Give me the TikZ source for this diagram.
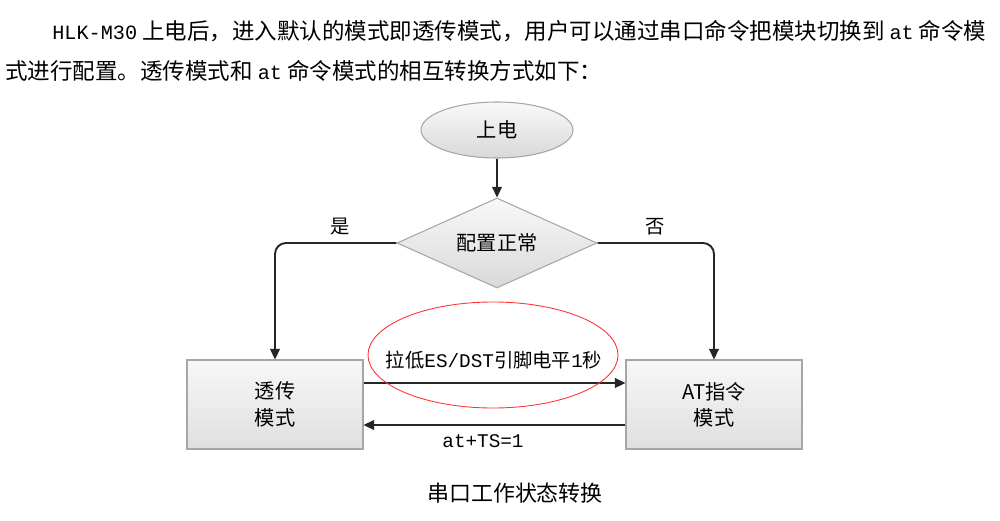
\documentclass[tikz,border=0pt]{standalone}
\usepackage{fontspec}
\setmainfont{Noto Sans CJK SC}
\newfontfamily\mono{Liberation Mono}
\usetikzlibrary{shapes.geometric,arrows.meta}

\begin{document}
\begin{tikzpicture}[
    start/.style={ellipse, draw=gray!70, line width=0.6pt, top color=gray!5, bottom color=gray!30, minimum width=3.04cm, minimum height=1.12cm, font=\fontsize{11.5}{13}\selectfont},
    decision/.style={diamond, draw=gray!70, line width=0.6pt, top color=gray!5, bottom color=gray!30, minimum width=4cm, minimum height=1.8cm, aspect=2.2, inner sep=0pt, font=\fontsize{11.5}{13}\selectfont},
    mode/.style={rectangle, draw=gray!70, line width=0.6pt, top color=gray!6, bottom color=gray!25, minimum width=3.52cm, minimum height=1.78cm, align=center, font=\fontsize{11.5}{15}\selectfont},
    arrow/.style={-{Triangle[length=6pt,width=5.5pt]}, line width=1.1pt, black!85},
    lbl/.style={font=\fontsize{11}{13}\selectfont}
]
    \useasboundingbox (0,0) rectangle (20,-10.42);

    % Paragraph above the chart
    \node[anchor=west, inner sep=0pt, font=\fontsize{12.8}{15}\selectfont] (line1) at (1.04,-0.62)
        {{\mono\fontsize{11.5}{15}\selectfont HLK-M30} 上电后，进入默认的模式即透传模式，用户可以通过串口命令把模块切换到 {\mono\fontsize{11.5}{15}\selectfont at} 命令模};
    \node[anchor=west, inner sep=0pt, font=\fontsize{12.8}{15}\selectfont] (line2) at (0.1,-1.42)
        {式进行配置。透传模式和 {\mono\fontsize{11.5}{15}\selectfont at} 命令模式的相互转换方式如下：};

    % Flow chart
    \node[start] (power) at (9.94,-2.6) {上电};
    \node[decision] (check) at (9.94,-4.86) {配置正常};
    \node[mode] (trans) at (5.5,-8.09) {透传\\模式};
    \node[mode] (atcmd) at (14.28,-8.09) {AT指令\\模式};

    \draw[arrow] (power) -- (check);
    \draw[arrow, rounded corners=0.22cm] (check.west) -| (trans.north);
    \draw[arrow, rounded corners=0.22cm] (check.east) -| (atcmd.north);
    \node[lbl] (yes) at (6.8,-4.54) {是};
    \node[lbl] (no) at (13.1,-4.54) {否};

    % Switching between the two modes
    \draw[arrow] ([yshift=0.43cm]trans.east) -- ([yshift=0.43cm]atcmd.west);
    \draw[arrow] ([yshift=-0.41cm]atcmd.west) -- ([yshift=-0.41cm]trans.east);
    \node[ellipse, draw=red!80, line width=0.5pt, minimum width=5cm, minimum height=2.12cm] (mark) at (9.86,-7.1) {};
    \node[lbl] (pin) at (9.88,-7.2) {拉低{\mono ES/DST}引脚电平{\mono 1}秒};
    \node[lbl] (cmd) at (9.66,-8.82) {\mono at+TS=1};

    % Caption
    \node[font=\fontsize{12.5}{14}\selectfont] (caption) at (10.3,-9.86) {串口工作状态转换};
\end{tikzpicture}
\end{document}
